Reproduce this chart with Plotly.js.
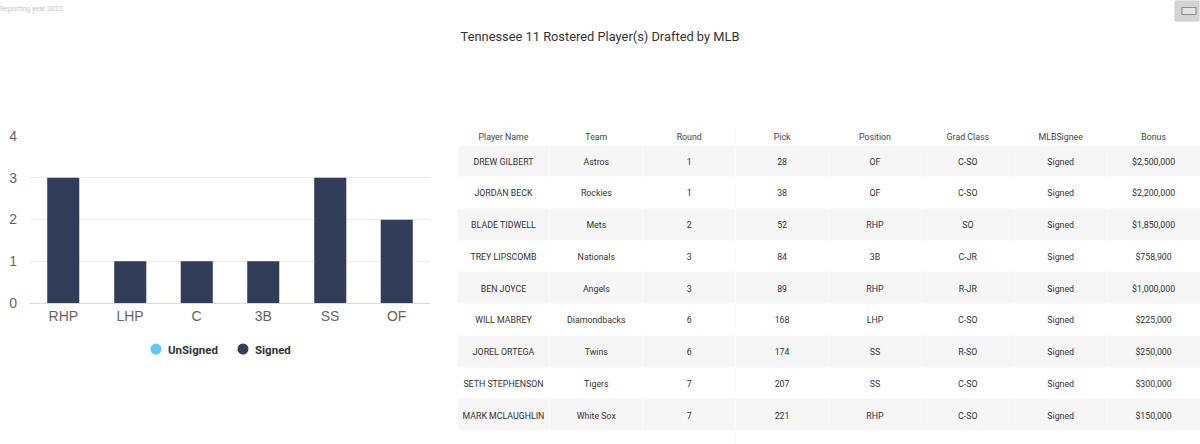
<!DOCTYPE html>
<html><head><meta charset="utf-8">
<script src="https://cdn.plot.ly/plotly-3.0.1.min.js"></script>
<style>html,body{margin:0;padding:0;background:#fff;overflow:hidden;width:1200px;height:444px}
#chart{width:1200px;height:800px}
#cells1 .cell-text,#cells2 .cell-text{translate:0 5px}
#header .cell-text{translate:0 -1.5px}
.legendtext{translate:-8px 0}
</style></head><body><div id="chart"></div>
<script>
const positions=['RHP','LHP','C','3B','SS','OF'];
const unsignedCounts=[0,0,0,0,0,0];
const signedCounts=[3,1,1,1,3,2];
const headers=['Player Name','Team','Round','Pick','Position','Grad Class','MLBSignee','Bonus'];
const players=['DREW GILBERT','JORDAN BECK','BLADE TIDWELL','TREY LIPSCOMB','BEN JOYCE','WILL MABREY','JOREL ORTEGA','SETH STEPHENSON','MARK MCLAUGHLIN','',''];
const teams=['Astros','Rockies','Mets','Nationals','Angels','Diamondbacks','Twins','Tigers','White Sox','',''];
const rounds=['1','1','2','3','3','6','6','7','7','',''];
const picks=['28','38','52','84','89','168','174','207','221','',''];
const pos=['OF','OF','RHP','3B','RHP','LHP','SS','SS','RHP','',''];
const grad=['C-SO','C-SO','SO','C-JR','R-JR','C-SO','R-SO','C-SO','C-SO','',''];
const signee=['Signed','Signed','Signed','Signed','Signed','Signed','Signed','Signed','Signed','',''];
const bonus=['$2,500,000','$2,200,000','$1,850,000','$758,900','$1,000,000','$225,000','$250,000','$300,000','$150,000','',''];
const H=800, W=1200;
const py=v=>1-v/H;
const nb=a=>a.map(s=>s.replace(/ /g,'\u00a0'));
const stripe=players.map((_,i)=>i%2===0?'#f6f6f6':'#ffffff');
const data=[
 {type:'bar',x:positions,y:unsignedCounts,marker:{color:'#5ac8fa'},width:0.48,showlegend:false,hoverinfo:'skip'},
 {type:'bar',x:positions,y:signedCounts,marker:{color:'#323d59',line:{color:'#8c93a8',width:0.5}},width:0.48,showlegend:false,hoverinfo:'skip'},
 {type:'scatter',mode:'markers',x:[null],y:[null],name:'UnSigned',marker:{color:'#5ac8fa',size:11}},
 {type:'scatter',mode:'markers',x:[null],y:[null],name:'Signed',marker:{color:'#323d59',size:11}},
 {type:'table',domain:{x:[457/W,1],y:[py(500),py(127)]},columnwidth:[1,1,1,1,1,1,1,1],
  header:{values:headers,height:18,align:'center',fill:{color:'#ffffff'},line:{color:'#fbfbfb',width:1},font:{family:'Roboto',size:8.8,color:'#444'}},
  cells:{values:[nb(players),nb(teams),rounds,picks,pos,grad,signee,bonus],height:31.74,align:'center',fill:{color:[stripe]},line:{color:'#fbfbfb',width:1},font:{family:'Roboto',size:8.8,color:'#333'}}}
];
const layout={width:W,height:H,margin:{l:0,r:0,t:0,b:0},paper_bgcolor:'#fff',plot_bgcolor:'#fff',showlegend:true,barmode:'stack',
 title:{text:'Tennessee 11 Rostered Player(s) Drafted by MLB',font:{family:'Roboto',size:12.85,color:'#333'},x:0.5,xanchor:'center',y:1-37/H,yanchor:'middle'},
 xaxis:{domain:[30/W,430/W],type:'category',categoryorder:'array',categoryarray:positions,range:[-0.5,5.5],tickfont:{family:'Liberation Sans',size:14,color:'#666'},ticks:'',showgrid:false,zeroline:false,showline:true,linecolor:'#d5d8ea',linewidth:1,anchor:'y'},
 yaxis:{domain:[py(303.3),py(135.7)],range:[0,4],tickvals:[0,1,2,3,4],tickfont:{family:'Liberation Sans',size:14,color:'#666'},ticks:'',ticklabelstandoff:12,gridcolor:'#ececec',gridwidth:1,zeroline:false,anchor:'x'},
 legend:{orientation:'h',traceorder:'normal',x:223/W,xanchor:'center',y:py(349),yanchor:'middle',entrywidth:42,entrywidthmode:'pixels',font:{family:'Roboto',size:11.5,color:'#333',weight:'bold'},itemclick:false,itemdoubleclick:false},
 annotations:[{text:'Reporting year 2022',xref:'paper',yref:'paper',x:0,xshift:-2,y:py(9.5),xanchor:'left',yanchor:'middle',showarrow:false,font:{family:'Roboto',size:7,color:'#c4c4c4'}}],
 shapes:[
  {type:'rect',xref:'paper',yref:'paper',x0:1175/W,x1:1199/W,y0:py(1),y1:py(21),fillcolor:'#d4d4d4',line:{color:'#cccccc',width:1},layer:'above'},
  {type:'rect',xref:'paper',yref:'paper',x0:1182/W,x1:1196/W,y0:py(7.5),y1:py(14.5),fillcolor:'#e4e4e4',line:{color:'#8e8e8e',width:1.2},layer:'above'}
 ]
};
Plotly.newPlot('chart',data,layout,{displayModeBar:false,responsive:false});
</script></body></html>
